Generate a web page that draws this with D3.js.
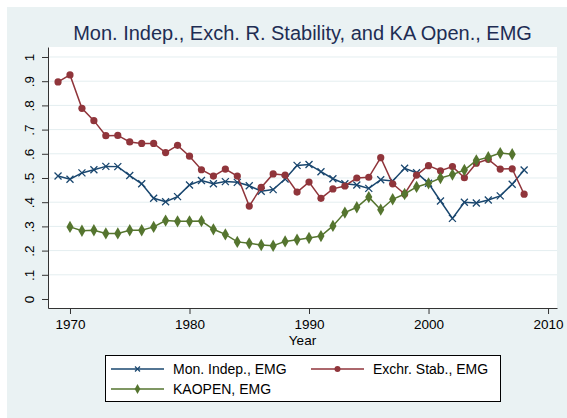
<!DOCTYPE html>
<html>
  <head>
    <title>Mon. Indep., Exch. R. Stability, and KA Open., EMG</title>
    <script src="https://d3js.org/d3.v7.min.js"></script>
    <style>
      body { margin: 0; background: #fff; }
      text { font-family: "Liberation Sans", Arial, sans-serif; }
      .axis text { font-size: 13.5px; fill: #000; }
      .axis path, .axis line { stroke: #333; }
      .grid line { stroke: #e4eef0; }
      .legend text { font-size: 14px; fill: #000; }
    </style>
  </head>
  <body>
    <svg width="567" height="418"></svg>
    <script>
      const years = d3.range(1969, 2009);

      // Mon. Indep., EMG (1969-2008)
      const monIndep = [0.508, 0.495, 0.521, 0.534, 0.548, 0.547, 0.510, 0.476, 0.416, 0.402,
                        0.423, 0.471, 0.490, 0.476, 0.485, 0.482, 0.468, 0.445, 0.452, 0.496,
                        0.552, 0.556, 0.526, 0.497, 0.476, 0.471, 0.457, 0.493, 0.488, 0.540,
                        0.522, 0.478, 0.405, 0.333, 0.400, 0.397, 0.409, 0.426, 0.474, 0.533];

      // Exchr. Stab., EMG (1969-2008)
      const exchStab = [0.897, 0.926, 0.788, 0.737, 0.675, 0.676, 0.649, 0.643, 0.643, 0.605,
                        0.635, 0.590, 0.534, 0.508, 0.537, 0.508, 0.384, 0.461, 0.517, 0.512,
                        0.442, 0.483, 0.416, 0.455, 0.467, 0.500, 0.503, 0.584, 0.476, 0.434,
                        0.512, 0.551, 0.530, 0.547, 0.501, 0.561, 0.577, 0.537, 0.538, 0.433];

      // KAOPEN, EMG (1970-2007; null where missing)
      const kaopen = [null, 0.298, 0.282, 0.284, 0.271, 0.271, 0.284, 0.284, 0.298, 0.324,
                      0.321, 0.321, 0.322, 0.288, 0.267, 0.236, 0.230, 0.223, 0.220, 0.238,
                      0.245, 0.252, 0.260, 0.302, 0.357, 0.379, 0.421, 0.369, 0.412, 0.434,
                      0.463, 0.478, 0.500, 0.514, 0.533, 0.573, 0.586, 0.603, 0.598, null];

      const xTicks = [1970, 1980, 1990, 2000, 2010];
      const yTicks = d3.range(0, 11).map(d => d / 10);
      const yTickLabels = ["0", ".1", ".2", ".3", ".4", ".5", ".6", ".7", ".8", ".9", "1"];

      const seriesNames = ["Mon. Indep., EMG", "Exchr. Stab., EMG", "KAOPEN, EMG"];
      const seriesColors = ["#1a476f", "#90353b", "#55752f"];

      const svg = d3.select("svg");
      const plotLeft = 48, plotRight = 557, plotTop = 47, plotBottom = 308;

      // outer background and plot region
      svg.append("rect")
        .attr("x", 7).attr("y", 7).attr("width", 560).attr("height", 411)
        .attr("fill", "#eaf2f3");
      svg.append("rect")
        .attr("x", plotLeft).attr("y", plotTop)
        .attr("width", plotRight - plotLeft).attr("height", plotBottom - plotTop)
        .attr("fill", "#fff");

      const x = d3.scaleLinear()
        .domain([1968.16, 2010.75])
        .range([plotLeft, plotRight]);
      const y = d3.scaleLinear()
        .domain([-0.0372, 1.0413])
        .range([plotBottom, plotTop]);

      // grid lines
      svg.append("g")
          .attr("class", "grid")
        .selectAll("line")
        .data(yTicks.filter(d => d > 0))
        .join("line")
          .attr("x1", plotLeft).attr("x2", plotRight)
          .attr("y1", d => y(d)).attr("y2", d => y(d));

      // axes
      svg.append("g")
          .attr("class", "axis")
          .attr("transform", `translate(0,${plotBottom})`)
          .call(d3.axisBottom(x).tickValues(xTicks).tickFormat(d3.format("d"))
            .tickSize(6).tickSizeOuter(0).tickPadding(5));

      const yAxis = svg.append("g")
          .attr("class", "axis")
          .attr("transform", `translate(${plotLeft},0)`)
          .call(d3.axisLeft(y).tickValues(yTicks).tickFormat((d, i) => yTickLabels[i])
            .tickSize(6).tickSizeOuter(0));
      yAxis.selectAll(".tick text")
          .attr("x", 0).attr("dy", null)
          .attr("text-anchor", "middle")
          .attr("transform", "translate(-14,0) rotate(-90)");

      svg.append("text")
        .attr("x", (plotLeft + plotRight) / 2).attr("y", 345)
        .attr("text-anchor", "middle")
        .style("font-size", "13.5px")
        .text("Year");

      svg.append("text")
        .attr("x", (plotLeft + plotRight) / 2).attr("y", 40)
        .attr("text-anchor", "middle")
        .style("font-size", "20px")
        .attr("fill", "#1e2d53")
        .text("Mon. Indep., Exch. R. Stability, and KA Open., EMG");

      // markers
      const crossPath = "M-3.5,-3.5L3.5,3.5M-3.5,3.5L3.5,-3.5";
      const diamond = d3.symbol().type(d3.symbolDiamond).size(44)();
      function marker(g, i) {
        if (i === 0) {
          g.append("path").attr("d", crossPath)
            .attr("stroke", seriesColors[0]).attr("stroke-width", 1.3).attr("fill", "none");
        } else if (i === 1) {
          g.append("circle").attr("r", 3.6).attr("fill", seriesColors[1]);
        } else {
          g.append("path").attr("d", diamond).attr("fill", seriesColors[2]);
        }
      }

      const allSeries = [monIndep, exchStab, kaopen];
      const line = d3.line()
        .defined(d => d[1] != null)
        .x(d => x(d[0])).y(d => y(d[1]));

      allSeries.forEach((vals, i) => {
        const pts = years.map((yr, j) => [yr, vals[j]]);
        const g = svg.append("g");
        g.append("path")
          .attr("d", line(pts))
          .attr("fill", "none")
          .attr("stroke", seriesColors[i])
          .attr("stroke-width", 1.5);
        g.selectAll("g.pt")
          .data(pts.filter(d => d[1] != null))
          .join("g")
            .attr("class", "pt")
            .attr("transform", d => `translate(${x(d[0])},${y(d[1])})`)
            .each(function () { marker(d3.select(this), i); });
      });

      // legend
      const legend = svg.append("g").attr("class", "legend");
      legend.append("rect")
        .attr("x", 105.5).attr("y", 355.5).attr("width", 395).attr("height", 46)
        .attr("fill", "#fff").attr("stroke", "#000");
      const legendPos = [[111, 369], [311, 369], [111, 389]];
      seriesNames.forEach((name, i) => {
        const [lx, ly] = legendPos[i];
        const item = legend.append("g");
        item.append("line")
          .attr("x1", lx).attr("x2", lx + 53)
          .attr("y1", ly).attr("y2", ly)
          .attr("stroke", seriesColors[i]).attr("stroke-width", 1.5);
        const m = item.append("g").attr("transform", `translate(${lx + 26.5},${ly})`);
        if (i === 0) {
          m.append("path").attr("d", "M-2.5,-2.5L2.5,2.5M-2.5,2.5L2.5,-2.5")
            .attr("stroke", seriesColors[0]).attr("stroke-width", 1.2);
        } else if (i === 1) {
          m.append("circle").attr("r", 3).attr("fill", seriesColors[1]);
        } else {
          m.append("path").attr("d", d3.symbol().type(d3.symbolDiamond).size(28)())
            .attr("fill", seriesColors[2]);
        }
        item.append("text")
          .attr("x", lx + 62).attr("y", ly + 5)
          .text(name);
      });
    </script>
  </body>
</html>
